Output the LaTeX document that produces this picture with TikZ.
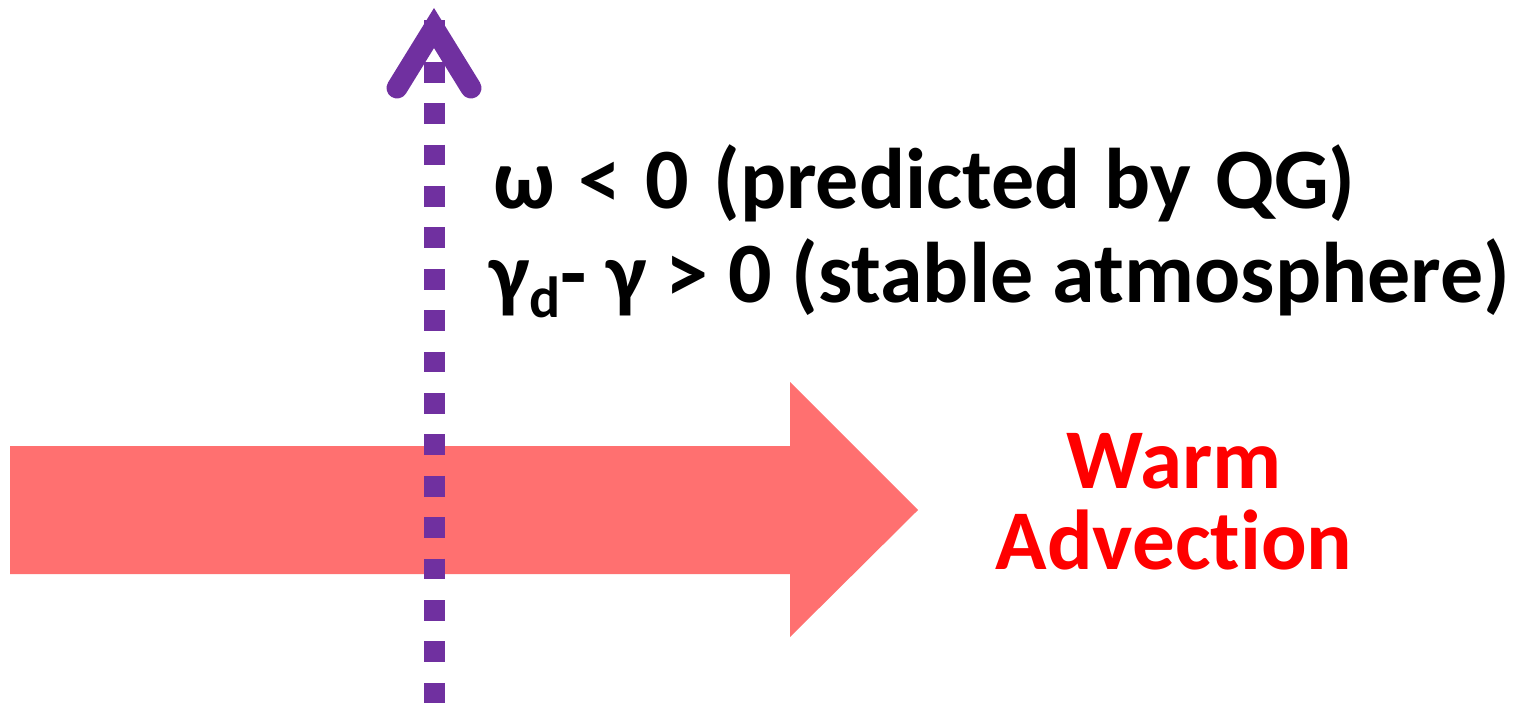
\documentclass[tikz,border=0pt]{standalone}
\usepackage{fontspec}
\setmainfont[Ligatures={NoCommon}]{Carlito}
\definecolor{advred}{RGB}{255,112,112}
\definecolor{vpurple}{RGB}{112,48,160}
\definecolor{txtred}{RGB}{255,0,0}
\tikzset{
  mainline/.style={inner sep=0pt, anchor=base west, font=\bfseries\fontsize{86}{94}\selectfont, text=black},
  warmtext/.style={inner sep=0pt, align=center, font=\bfseries\fontsize{85}{81}\selectfont, text=txtred},
  motion/.style={line width=21pt, draw=vpurple, dash pattern=on 20.7pt off 20.7pt},
  chevron/.style={line width=21pt, draw=vpurple, line cap=round, line join=miter}
}
\begin{document}
\begin{tikzpicture}[x=1pt,y=-1pt]
\useasboundingbox (0,0) rectangle (1520,702);
% big red arrow
\fill[advred] (10,446) -- (790,446) -- (790,382) -- (918,510) -- (790,637) -- (790,574) -- (10,574) -- cycle;
% dotted vertical motion line
\coordinate (ltop) at (434,20.4);
\coordinate (lbot) at (434,704);
\draw[motion] (ltop) -- (lbot);
% open arrow head
\coordinate (cl) at (397,88);
\coordinate (apex) at (434,28);
\coordinate (cr) at (471,88);
\draw[chevron] (cl) -- (apex) -- (cr);
% labels
\node[mainline] (l1) at (493,208) {\spaceskip=24pt ω < 0 (predicted by QG)};
\node[mainline] (l2) at (489,302) {γ\raisebox{-15pt}{\fontsize{58}{58}\selectfont d}- γ > 0 (stable atmosphere)};
\node[warmtext] (warm) at (1174,502) {Warm\\Advection};
\end{tikzpicture}
\end{document}
